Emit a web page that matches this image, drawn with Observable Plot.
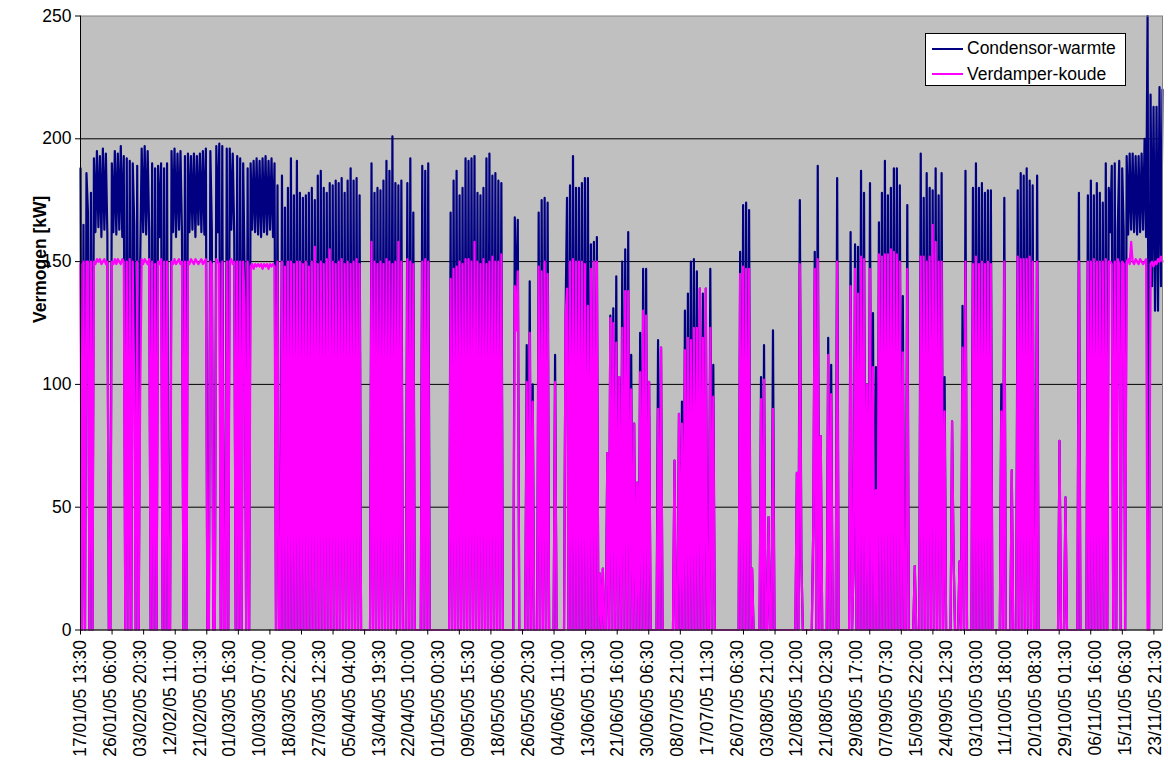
<!DOCTYPE html>
<html><head><meta charset="utf-8">
<script src="https://cdn.jsdelivr.net/npm/d3@7"></script>
<script src="https://cdn.jsdelivr.net/npm/@observablehq/plot@0.6"></script>
<style>
body{margin:0;background:#fff;font-family:Arial,"Liberation Sans",sans-serif;}
#wrap{position:relative;width:1168px;height:765px;}
#wrap svg{position:absolute;left:0;top:0;}
#legend{position:absolute;left:925px;top:33px;width:201px;height:53px;background:#fff;border:1px solid #000;box-sizing:border-box;font-size:17.5px;z-index:2;color:#000;}
.row{position:absolute;left:6px;height:22px;display:flex;align-items:center;white-space:nowrap;}
.sw{width:31px;height:0;border-top:2px solid;margin-right:4px;}
</style></head><body><div id="wrap"></div>
<script>
// Tick labels of the category axis (one every 416 half-hour samples)
const labels = ["17/01/05 13:30","26/01/05 06:00","03/02/05 20:30","12/02/05 11:00","21/02/05 01:30","01/03/05 16:30","10/03/05 07:00","18/03/05 22:00","27/03/05 12:30","05/04/05 04:00","13/04/05 19:30","22/04/05 10:00","01/05/05 00:30","09/05/05 15:30","18/05/05 06:00","26/05/05 20:30","04/06/05 11:00","13/06/05 01:30","21/06/05 16:00","30/06/05 06:30","08/07/05 21:00","17/07/05 11:30","26/07/05 06:30","03/08/05 21:00","12/08/05 12:00","21/08/05 02:30","29/08/05 17:00","07/09/05 07:30","15/09/05 22:00","24/09/05 12:30","03/10/05 03:00","11/10/05 18:00","20/10/05 08:30","29/10/05 01:30","06/11/05 16:00","15/11/05 06:30","23/11/05 21:30"];
const catsPerLabel = 416;   // categories between two labels
const catsPerTick = 440;    // categories between two tick marks
const tickCount = 35;
const samplesPerLabel = 20; // values read per label interval
const yTicks = [0, 50, 100, 150, 200, 250];
const yGrid = [50, 100, 150, 200];

// Condensor-warmte [kW], 20 readings per label interval
const condensor = [
188,0,165,0,186,170,0,178,0,192,162,195,164,193,160,196,163,194,161,0,
0,190,162,195,161,194,163,197,160,193,0,192,0,191,0,190,165,0,189,0,
150,196,162,197,161,195,163,0,190,0,188,0,189,160,190,0,188,0,190,0,
0,195,162,196,160,194,163,195,161,0,193,0,194,162,193,163,194,160,193,165,
194,162,195,161,196,0,0,195,163,0,0,197,162,198,0,197,0,0,196,0,
196,163,194,161,0,193,0,192,0,190,145,0,188,0,190,163,191,162,192,161,
191,160,192,162,193,161,191,163,192,160,190,0,181,0,0,185,0,172,0,180,
0,192,0,177,0,191,0,178,0,176,0,177,0,178,0,180,0,175,0,185,
0,187,0,180,0,178,0,182,0,181,0,183,0,182,0,184,0,178,0,183,
0,188,0,183,0,184,0,177,0,0,0,0,0,0,0,190,0,178,0,180,
0,179,0,183,0,191,0,187,0,201,0,182,0,181,0,183,0,0,0,182,
0,192,0,170,0,0,0,0,0,189,0,187,0,190,0,0,0,0,0,0,
0,0,0,0,0,0,0,0,170,0,183,0,187,0,177,0,180,0,192,0,
191,0,192,0,193,0,178,0,177,0,180,0,192,0,194,0,185,0,186,0,
183,0,182,0,0,0,0,0,0,0,0,168,124,167,0,0,0,0,0,116,
0,142,0,100,0,0,0,170,0,175,0,176,0,174,0,0,0,0,112,0,
0,0,0,0,0,127,176,0,181,0,193,0,180,0,180,0,182,0,184,0,
184,0,157,0,158,0,160,0,23,0,25,0,0,72,0,128,0,131,0,144,
0,103,0,150,0,155,0,162,0,112,0,84,0,60,0,121,0,147,0,147,
0,101,0,0,0,0,0,118,0,115,0,0,0,0,0,0,0,0,69,0,
0,88,0,93,0,130,0,137,0,150,0,151,0,146,0,139,0,137,0,139,
0,0,147,0,108,0,0,0,0,0,0,0,0,0,0,0,0,0,0,0,
0,0,154,0,173,0,174,0,171,0,25,0,0,0,0,0,103,0,116,0,
0,46,0,0,122,0,0,0,0,0,0,0,0,0,0,0,0,0,0,0,
64,0,175,29,0,0,0,0,0,0,0,42,154,0,189,0,79,0,0,0,
0,119,0,108,0,0,0,184,0,0,0,0,0,0,0,0,162,0,26,157,
0,156,0,187,0,178,0,100,0,182,0,129,0,107,0,166,0,178,0,191,
0,177,0,180,0,188,0,188,0,181,0,136,0,0,173,0,0,0,0,26,
0,0,0,194,0,176,0,186,0,180,0,179,0,188,0,177,0,186,0,103,
0,0,0,0,85,30,0,0,0,28,0,132,0,187,0,0,0,0,180,0,
190,0,180,0,182,0,178,0,179,0,179,0,0,0,0,0,0,100,0,176,
0,0,0,0,65,0,0,0,179,0,186,0,185,0,188,0,183,0,181,0,
0,185,0,0,0,0,0,0,0,0,0,0,0,0,0,0,77,0,0,0,
54,0,0,0,0,0,0,0,0,178,0,0,0,0,0,177,0,183,0,177,
0,182,0,178,0,174,0,190,0,180,162,189,0,190,0,163,191,0,188,162,
0,193,161,194,163,194,162,193,161,193,162,194,163,200,160,250,0,218,140,213,
130,213,130,221,140,220
];

// Verdamper-koude [kW], 20 readings per label interval
const verdamper = [
149,0,150,0,150,150,0,150,0,150,149,151,150,151,149,150,151,149,150,0,
0,150,149,151,149,151,150,149,151,150,0,150,0,151,0,150,99,0,150,0,
96,151,149,151,150,149,151,0,150,0,149,0,150,149,151,0,150,0,150,0,
0,150,149,151,149,150,151,149,150,0,150,0,150,149,151,150,149,151,150,149,
150,151,149,150,151,0,0,150,149,0,0,151,150,149,0,150,0,0,150,0,
150,151,149,150,0,150,0,150,0,150,132,0,150,0,148,149,147,149,148,149,
148,149,147,149,148,149,147,149,148,149,148,0,150,0,0,150,0,148,0,150,
0,150,0,149,0,150,0,150,0,149,0,150,0,148,0,150,0,156,0,149,
0,150,0,149,0,151,0,155,0,150,0,149,0,150,0,151,0,149,0,150,
0,149,0,150,0,151,0,149,0,0,0,0,0,0,0,158,0,150,0,149,
0,150,0,149,0,151,0,150,0,149,0,150,0,158,0,150,0,0,0,151,
0,150,0,149,0,0,0,0,0,150,0,151,0,150,0,0,0,0,0,0,
0,0,0,0,0,0,0,0,143,0,147,0,148,0,150,0,149,0,151,0,
151,0,150,0,158,0,150,0,149,0,151,0,149,0,150,0,152,0,150,0,
150,0,153,0,0,0,0,0,0,0,0,140,122,146,0,0,0,0,0,101,
0,121,0,93,0,0,0,148,0,146,0,150,0,145,0,0,0,0,101,0,
0,0,0,0,0,127,139,0,150,0,151,0,150,0,150,0,150,0,149,0,
132,0,147,0,150,0,150,0,23,0,25,0,0,72,0,127,0,125,0,117,
0,103,0,123,0,138,0,138,0,98,0,84,0,60,0,105,0,130,0,128,
0,101,0,0,0,0,0,90,0,115,0,0,0,0,0,0,0,0,69,0,
0,88,0,84,0,114,0,119,0,118,0,123,0,123,0,139,0,119,0,139,
0,0,123,0,95,0,0,0,0,0,0,0,0,0,0,0,0,0,0,0,
0,0,145,0,148,0,147,0,147,0,25,0,0,0,0,0,94,0,102,0,
0,46,0,0,90,0,0,0,0,0,0,0,0,0,0,0,0,0,0,0,
64,0,149,29,0,0,0,0,0,0,0,42,147,0,151,0,79,0,0,0,
0,112,0,96,0,0,0,150,0,0,0,0,0,0,0,0,140,0,26,147,
0,137,0,152,0,151,0,100,0,147,0,107,0,57,0,153,0,152,0,153,
0,153,0,155,0,154,0,153,0,150,0,113,0,0,147,0,0,0,0,26,
0,0,0,152,0,152,0,150,0,152,0,165,0,158,0,150,0,150,0,89,
0,0,0,0,85,30,0,0,0,28,0,115,0,150,0,0,0,0,149,0,
152,0,149,0,150,0,149,0,150,0,149,0,0,0,0,0,0,89,0,150,
0,0,0,0,65,0,0,0,152,0,151,0,151,0,151,0,152,0,150,0,
0,150,0,0,0,0,0,0,0,0,0,0,0,0,0,0,77,0,0,0,
54,0,0,0,0,0,0,0,0,150,0,0,0,0,0,150,0,150,0,151,
0,150,0,150,0,150,0,151,0,150,150,149,0,150,0,151,149,0,150,149,
0,150,151,149,158,150,149,151,150,149,151,150,149,150,151,0,0,149,150,148,
150,149,151,150,152,150
];

const series = [
  {name: "Condensor-warmte", color: "#000080", values: condensor},
  {name: "Verdamper-koude", color: "#ff00ff", values: verdamper}
];
const rows = (vals) => vals.map((v, i) => ({x: i / samplesPerLabel, y: v}));
const labelPos = labels.map((d, i) => i);
const tickPos = d3.range(tickCount).map(t => t * catsPerTick / catsPerLabel);
const xMax = (condensor.length - 1) / samplesPerLabel;

const chart = Plot.plot({
  width: 1168, height: 765,
  marginLeft: 80, marginRight: 6, marginTop: 15.5, marginBottom: 135.5,
  style: {fontFamily: 'Arial, "Liberation Sans", sans-serif', fontSize: "17.5px", color: "#000", background: "transparent", overflow: "visible"},
  x: {type: "linear", domain: [0, xMax]},
  y: {domain: [0, 250]},
  marks: [
    Plot.frame({fill: "#c0c0c0"}),
    Plot.gridY(yGrid, {stroke: "#000", strokeOpacity: 1}),
    ...series.map(s => Plot.line(rows(s.values), {x: "x", y: "y", stroke: s.color, strokeWidth: 2.2})),
    Plot.frame({stroke: "#808080"}),
    Plot.ruleX([0], {stroke: "#000"}),
    Plot.ruleY([0], {stroke: "#000"}),
    Plot.axisY(yTicks, {tickSize: 5, tickPadding: 4, label: null, stroke: "#000"}),
    Plot.axisX(tickPos, {tickSize: 5, tickFormat: () => "", label: null, stroke: "#000"}),
    Plot.axisX(labelPos, {tickSize: 0, tickPadding: 10, tickRotate: -90, tickFormat: d => labels[d], label: null}),
    Plot.text(["Vermogen [kW]"], {frameAnchor: "left", dx: -40, rotate: -90, fontWeight: "bold", fontSize: 17.5, fill: "#000"})
  ]
});
const wrap = document.getElementById("wrap");
wrap.appendChild(chart);

const legend = document.createElement("div");
legend.id = "legend";
series.forEach((s, i) => {
  const r = document.createElement("div");
  r.className = "row";
  r.style.top = (i === 0 ? 3.5 : 29) + "px";
  const sw = document.createElement("span");
  sw.className = "sw";
  sw.style.borderColor = s.color;
  const t = document.createElement("span");
  t.textContent = s.name;
  r.appendChild(sw); r.appendChild(t);
  legend.appendChild(r);
});
wrap.appendChild(legend);
</script></body></html>
